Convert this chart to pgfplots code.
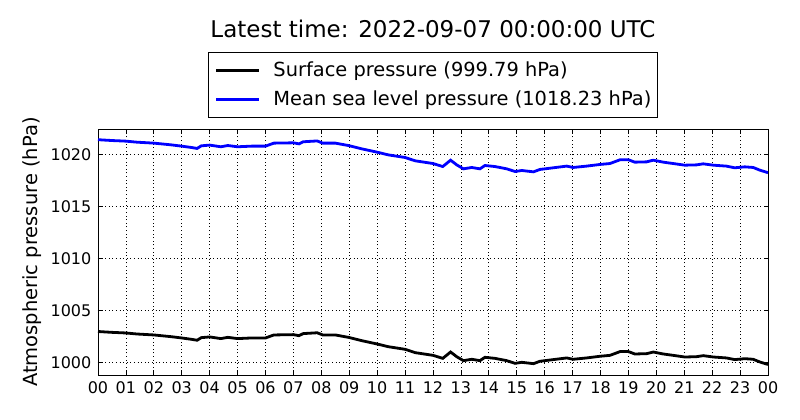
\documentclass[border=0pt]{standalone}
\usepackage{pgfplots}
\pgfplotsset{compat=1.18}
\usepackage{pgfplotstable}
\usepackage{fontspec}
\setmainfont{DejaVu Sans}

\pgfplotstableread{
h v
0.00 1002.96
0.50 1002.88
1.00 1002.82
1.40 1002.72
2.00 1002.63
2.60 1002.47
3.00 1002.34
3.35 1002.21
3.55 1002.12
3.70 1002.37
4.00 1002.44
4.40 1002.28
4.65 1002.40
5.00 1002.28
5.50 1002.34
6.00 1002.34
6.30 1002.63
7.00 1002.66
7.20 1002.56
7.35 1002.76
7.85 1002.84
8.05 1002.63
8.50 1002.63
8.97 1002.40
9.45 1002.08
10.00 1001.76
10.40 1001.50
11.00 1001.25
11.36 1000.93
12.00 1000.67
12.35 1000.38
12.63 1000.99
12.85 1000.54
13.09 1000.16
13.39 1000.29
13.68 1000.16
13.86 1000.48
14.22 1000.38
14.64 1000.16
14.94 999.90
15.18 1000.00
15.60 999.87
15.83 1000.10
16.31 1000.26
16.79 1000.42
17.02 1000.29
17.50 1000.42
17.98 1000.58
18.34 1000.67
18.70 1001.03
19.00 1001.03
19.23 1000.80
19.65 1000.83
19.89 1000.99
20.25 1000.80
20.60 1000.67
21.02 1000.51
21.44 1000.54
21.68 1000.64
22.04 1000.51
22.51 1000.42
22.81 1000.26
23.17 1000.35
23.47 1000.29
23.71 1000.03
24.00 999.79
}\surface

\pgfplotstableread{
h v
0.00 1021.40
0.50 1021.32
1.00 1021.26
1.40 1021.16
2.00 1021.07
2.60 1020.91
3.00 1020.78
3.35 1020.65
3.55 1020.56
3.70 1020.81
4.00 1020.88
4.40 1020.72
4.65 1020.84
5.00 1020.72
5.50 1020.78
6.00 1020.78
6.30 1021.07
7.00 1021.10
7.20 1021.00
7.35 1021.20
7.85 1021.28
8.05 1021.07
8.50 1021.07
8.97 1020.84
9.45 1020.52
10.00 1020.20
10.40 1019.94
11.00 1019.69
11.36 1019.37
12.00 1019.11
12.35 1018.82
12.63 1019.43
12.85 1018.98
13.09 1018.60
13.39 1018.73
13.68 1018.60
13.86 1018.92
14.22 1018.82
14.64 1018.60
14.94 1018.34
15.18 1018.44
15.60 1018.31
15.83 1018.54
16.31 1018.70
16.79 1018.86
17.02 1018.73
17.50 1018.86
17.98 1019.02
18.34 1019.11
18.70 1019.47
19.00 1019.47
19.23 1019.24
19.65 1019.27
19.89 1019.43
20.25 1019.24
20.60 1019.11
21.02 1018.95
21.44 1018.98
21.68 1019.08
22.04 1018.95
22.51 1018.86
22.81 1018.70
23.17 1018.79
23.47 1018.73
23.71 1018.47
24.00 1018.23
}\msl

\begin{document}
\begin{tikzpicture}
\useasboundingbox (-98pt,-45pt) rectangle (702pt,375pt);
\begin{axis}[
  at={(0pt,0pt)}, anchor=south west,
  scale only axis,
  width=670pt, height=245.7pt,
  xmin=0, xmax=24, ymin=998.78, ymax=1022.4,
  xtick={0,1,...,24},
  xticklabels={00,01,02,03,04,05,06,07,08,09,10,11,12,13,14,15,16,17,18,19,20,21,22,23,00},
  ytick={1000,1005,1010,1015,1020},
  /pgf/number format/assume math mode=true,
  /pgf/number format/1000 sep={},
  tick label style={font=\fontsize{16}{19}\selectfont},
  xticklabel style={inner sep=0pt, yshift=-6.7pt},
  yticklabel style={inner sep=0pt, xshift=-6.5pt},
  tick align=inside,
  major tick length=4.5pt,
  tick style={black, line width=0.8pt},
  axis line style={black, line width=0.9pt},
  grid=major,
  major grid style={black, line width=0.8pt, dash pattern=on 1pt off 2.6pt},
  ylabel={Atmospheric pressure (hPa)},
  ylabel style={at={(axis description cs:-0.0906,0.5)}, anchor=base, font=\fontsize{19.5}{23}\selectfont},
  title={Latest time: 2022-09-07 00:00:00 UTC},
  title style={at={(0.5,1)}, anchor=base, yshift=86pt, font=\fontsize{23}{27}\selectfont},
  legend style={at={(0.5,1)}, anchor=south, yshift=11.6pt, draw=black, line width=0.8pt,
    font=\fontsize{19.4}{23}\selectfont, inner xsep=6.5pt, inner ysep=7pt,
    row sep=6.4pt, column sep=13pt,
    nodes={inner sep=0pt, text height=17pt, text depth=5pt}},
  legend cell align=left,
  legend image code/.code={\draw[#1, line width=2.8pt] (0pt,0pt) -- (43pt,0pt);},
]
\addplot[black, line width=2.8pt] table[x=h, y=v] {\surface};
\addlegendentry{Surface pressure (999.79 hPa)}
\addplot[blue, line width=2.8pt] table[x=h, y=v] {\msl};
\addlegendentry{Mean sea level pressure (1018.23 hPa)}
\end{axis}
\end{tikzpicture}
\end{document}
